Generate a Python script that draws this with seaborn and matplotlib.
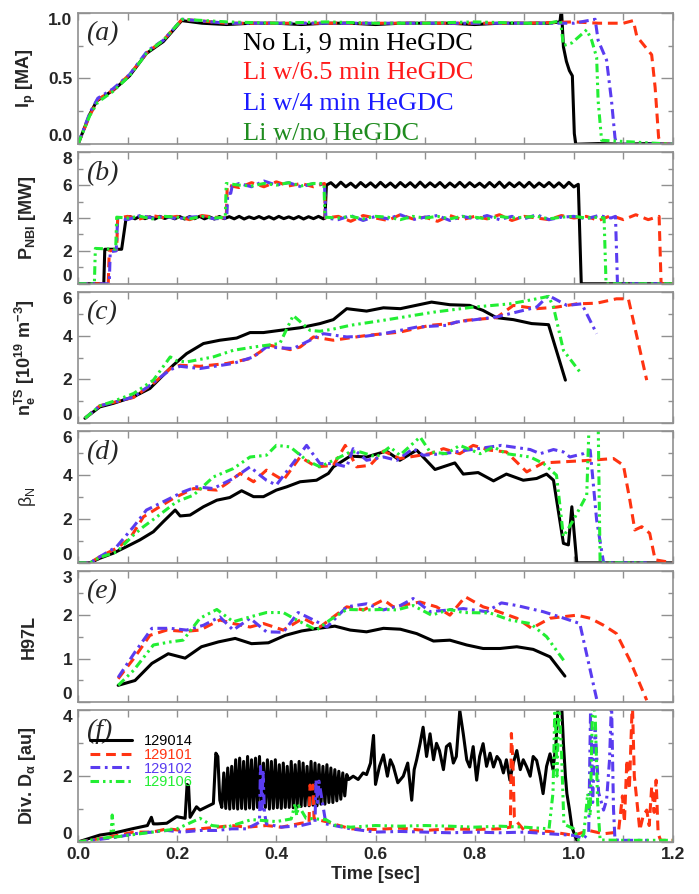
import matplotlib
matplotlib.use('Agg')
import matplotlib.pyplot as plt
import seaborn as sns

# ---------------- data ----------------
# (a) plasma current [MA]
ip_black_t = [0.0, 0.024, 0.038, 0.071, 0.104, 0.138, 0.172, 0.209, 0.25, 0.30,
              0.35, 0.40, 0.45, 0.50, 0.55, 0.60, 0.65, 0.70, 0.75, 0.80,
              0.85, 0.90, 0.95, 0.972, 0.975, 0.979, 0.985, 0.991, 0.997, 1.001,
              1.004, 1.05, 1.10, 1.15, 1.20]
ip_black = [0.0, 0.23, 0.33, 0.41, 0.52, 0.69, 0.78, 0.94, 0.92, 0.91,
            0.92, 0.92, 0.91, 0.92, 0.92, 0.91, 0.92, 0.92, 0.92, 0.91,
            0.92, 0.92, 0.92, 0.93, 1.03, 0.74, 0.63, 0.56, 0.52, 0.08,
            0.0, 0.005, 0.0, 0.005, 0.0]
ip_red_t = [0.0, 0.024, 0.04, 0.07, 0.104, 0.14, 0.172, 0.21, 0.30, 0.40,
            0.50, 0.60, 0.70, 0.80, 0.90, 1.00, 1.05, 1.10, 1.12, 1.127,
            1.157, 1.164, 1.171, 1.177, 1.20]
ip_red = [0.0, 0.22, 0.34, 0.41, 0.53, 0.70, 0.79, 0.95, 0.92, 0.92,
          0.92, 0.92, 0.92, 0.92, 0.92, 0.93, 0.92, 0.92, 0.94, 0.82,
          0.68, 0.43, 0.05, 0.0, 0.0]
ip_blue_t = [0.0, 0.024, 0.04, 0.07, 0.104, 0.14, 0.172, 0.21, 0.30, 0.40,
             0.50, 0.60, 0.70, 0.80, 0.90, 1.00, 1.043, 1.049, 1.066, 1.076,
             1.083, 1.086, 1.20]
ip_blue = [0.0, 0.24, 0.35, 0.42, 0.53, 0.71, 0.79, 0.95, 0.92, 0.92,
           0.92, 0.92, 0.92, 0.92, 0.92, 0.92, 0.95, 0.79, 0.64, 0.33,
           0.05, 0.0, 0.0]
ip_green_t = [0.0, 0.024, 0.04, 0.07, 0.104, 0.14, 0.172, 0.21, 0.30, 0.40,
              0.50, 0.60, 0.70, 0.80, 0.90, 0.95, 0.973, 0.979, 0.996, 1.026,
              1.036, 1.046, 1.049, 1.056, 1.20]
ip_green = [0.0, 0.22, 0.32, 0.40, 0.52, 0.70, 0.79, 0.95, 0.93, 0.92,
            0.93, 0.92, 0.92, 0.93, 0.92, 0.92, 0.94, 0.75, 0.77, 0.87,
            0.79, 0.66, 0.33, 0.03, 0.0]

# (b) NBI power [MW]
pb_black_t = [0.0, 0.052, 0.054, 0.088, 0.097,
              0.105, 0.115, 0.125, 0.135, 0.145, 0.155, 0.165, 0.175, 0.185, 0.195,
              0.205, 0.215, 0.225, 0.235, 0.245, 0.255, 0.265, 0.275, 0.285, 0.295,
              0.305, 0.315, 0.325, 0.335, 0.345, 0.355, 0.365, 0.375, 0.385, 0.395,
              0.405, 0.415, 0.425, 0.435, 0.445, 0.455, 0.465, 0.475, 0.485, 0.495,
              0.498, 0.501,
              0.51, 0.52, 0.53, 0.54, 0.55, 0.56, 0.57, 0.58, 0.59, 0.60,
              0.61, 0.62, 0.63, 0.64, 0.65, 0.66, 0.67, 0.68, 0.69, 0.70,
              0.71, 0.72, 0.73, 0.74, 0.75, 0.76, 0.77, 0.78, 0.79, 0.80,
              0.81, 0.82, 0.83, 0.84, 0.85, 0.86, 0.87, 0.88, 0.89, 0.90,
              0.91, 0.92, 0.93, 0.94, 0.95, 0.96, 0.97, 0.98, 0.99, 1.00,
              1.009, 1.015, 1.2]
pb_black = [0.0, 0.0, 2.1, 2.1, 4.0,
            4.08, 3.95, 4.1, 3.96, 4.07, 3.94, 4.1, 3.97, 4.08, 3.95,
            4.09, 3.94, 4.08, 3.96, 4.1, 3.95, 4.07, 3.94, 4.09, 3.96,
            4.08, 3.95, 4.1, 3.94, 4.07, 3.96, 4.09, 3.95, 4.08, 3.94,
            4.1, 3.96, 4.07, 3.95, 4.09, 3.94, 4.08, 3.96, 4.1, 3.95,
            4.0, 6.0,
            6.15, 5.88, 6.18, 5.9, 6.12, 5.86, 6.16, 5.9, 6.14, 5.87,
            6.17, 5.89, 6.13, 5.86, 6.16, 5.9, 6.15, 5.87, 6.18, 5.88,
            6.14, 5.9, 6.16, 5.86, 6.13, 5.89, 6.17, 5.88, 6.15, 5.9,
            6.12, 5.87, 6.16, 5.89, 6.18, 5.86, 6.14, 5.9, 6.15, 5.88,
            6.17, 5.87, 6.13, 5.9, 6.16, 5.88, 6.14, 5.86, 6.17, 5.89,
            6.05, 0.0, 0.0]
pb_red_t = [0.0, 0.061, 0.063, 0.078, 0.080, 0.100, 0.125, 0.150, 0.175, 0.200,
            0.225, 0.250, 0.275, 0.299, 0.301, 0.325, 0.350, 0.375, 0.400, 0.425,
            0.450, 0.475, 0.497, 0.499, 0.525, 0.550, 0.575, 0.600, 0.625, 0.650,
            0.675, 0.700, 0.725, 0.750, 0.775, 0.800, 0.825, 0.850, 0.875, 0.900,
            0.925, 0.950, 0.975, 1.000, 1.025, 1.050, 1.075, 1.100, 1.125, 1.150,
            1.172, 1.176, 1.200]
pb_red = [0.0, 0.0, 2.0, 2.05, 4.0, 4.1, 3.95, 4.15, 4.0, 4.1,
          3.9, 4.15, 4.05, 4.0, 6.0, 5.85, 6.15, 5.9, 6.2, 5.95,
          6.1, 5.9, 6.1, 4.0, 4.1, 3.8, 4.15, 4.0, 3.85, 4.2,
          3.95, 4.05, 3.8, 4.15, 3.9, 4.1, 3.95, 4.2, 3.85, 4.1,
          4.0, 3.9, 4.15, 4.0, 4.1, 3.85, 4.15, 3.9, 4.2, 3.9,
          4.1, 0.0, 0.0]
pb_blue_t = [0.0, 0.063, 0.065, 0.077, 0.080, 0.100, 0.125, 0.150, 0.175, 0.200,
             0.225, 0.250, 0.275, 0.300, 0.302, 0.308, 0.311, 0.325, 0.350, 0.375,
             0.400, 0.425, 0.450, 0.475, 0.497, 0.500, 0.525, 0.550, 0.575, 0.600,
             0.625, 0.650, 0.675, 0.700, 0.725, 0.750, 0.775, 0.800, 0.825, 0.850,
             0.875, 0.900, 0.925, 0.950, 0.975, 1.000, 1.025, 1.050, 1.075, 1.084,
             1.088, 1.200]
pb_blue = [0.0, 0.0, 1.95, 2.0, 4.0, 3.9, 4.15, 4.0, 4.1, 3.95,
           4.05, 4.1, 3.95, 4.0, 5.5, 5.5, 5.95, 6.1, 5.9, 6.25,
           6.0, 6.15, 5.9, 6.1, 6.05, 4.0, 3.9, 4.15, 3.85, 4.1,
           3.95, 4.2, 3.9, 4.05, 4.15, 3.85, 4.1, 3.95, 4.15, 3.9,
           4.1, 3.95, 4.2, 3.9, 4.05, 4.1, 3.95, 4.15, 4.0, 4.1,
           0.0, 0.0]
pb_green_t = [0.0, 0.033, 0.035, 0.076, 0.078, 0.100, 0.125, 0.150, 0.175, 0.200,
              0.225, 0.250, 0.275, 0.297, 0.299, 0.325, 0.350, 0.375, 0.400, 0.425,
              0.450, 0.475, 0.496, 0.498, 0.525, 0.550, 0.575, 0.600, 0.625, 0.650,
              0.675, 0.700, 0.725, 0.750, 0.775, 0.800, 0.825, 0.850, 0.875, 0.900,
              0.925, 0.950, 0.975, 1.000, 1.025, 1.050, 1.061, 1.065, 1.200]
pb_green = [0.0, 0.0, 2.15, 2.1, 4.05, 4.0, 4.1, 3.95, 4.1, 4.05,
            3.95, 4.1, 4.0, 4.05, 6.1, 6.0, 5.95, 6.1, 6.0, 6.15,
            5.95, 6.1, 6.1, 4.05, 4.0, 4.1, 3.95, 4.1, 4.05, 3.9,
            4.1, 4.0, 4.1, 3.95, 4.1, 4.05, 3.95, 4.1, 4.0, 4.05,
            4.1, 3.95, 4.05, 4.1, 4.0, 4.05, 4.0, 0.0, 0.0]

# (c) Thomson density [1e19 m^-3]
ne_black_t = [0.014, 0.044, 0.071, 0.112, 0.145, 0.172, 0.192, 0.219, 0.253, 0.286,
              0.32, 0.347, 0.374, 0.407, 0.448, 0.488, 0.515, 0.542, 0.582, 0.616,
              0.65, 0.713, 0.75, 0.79, 0.817, 0.844, 0.878, 0.915, 0.949, 0.983]
ne_black = [0.23, 0.75, 0.91, 1.21, 1.59, 2.2, 2.65, 3.18, 3.64, 3.79,
            3.89, 4.14, 4.14, 4.24, 4.36, 4.55, 4.73, 5.23, 5.12, 5.27,
            5.23, 5.53, 5.41, 5.38, 5.15, 4.82, 4.73, 4.55, 4.5, 1.97]
ne_red_t = [0.014, 0.044, 0.071, 0.112, 0.152, 0.186, 0.206, 0.246, 0.30, 0.347,
            0.387, 0.428, 0.448, 0.475, 0.515, 0.549, 0.582, 0.649, 0.71, 0.75,
            0.784, 0.844, 0.878, 0.925, 0.965, 1.006, 1.046, 1.086, 1.11, 1.147]
ne_red = [0.23, 0.8, 0.95, 1.18, 1.82, 2.5, 2.65, 2.6, 2.73, 2.95,
          3.56, 3.36, 3.48, 3.94, 3.79, 3.9, 4.01, 4.16, 4.47, 4.55,
          4.7, 4.82, 5.38, 5.23, 5.3, 5.45, 5.48, 5.68, 5.68, 1.97]
ne_blue_t = [0.014, 0.044, 0.071, 0.112, 0.152, 0.186, 0.206, 0.246, 0.313, 0.354,
             0.38, 0.434, 0.468, 0.495, 0.542, 0.582, 0.616, 0.683, 0.743, 0.763,
             0.844, 0.898, 0.925, 0.949, 0.986, 1.016, 1.046]
ne_blue = [0.23, 0.8, 0.95, 1.2, 1.85, 2.45, 2.6, 2.5, 2.73, 3.03,
           3.48, 3.41, 3.79, 4.09, 3.94, 3.98, 4.09, 4.39, 4.47, 4.62,
           4.85, 5.15, 5.3, 5.83, 5.38, 5.45, 4.09]
ne_green_t = [0.014, 0.044, 0.071, 0.112, 0.152, 0.186, 0.199, 0.219, 0.273, 0.313,
              0.354, 0.407, 0.434, 0.468, 0.488, 0.515, 0.549, 0.616, 0.717, 0.797,
              0.871, 0.925, 0.949, 0.959, 0.979, 1.012]
ne_green = [0.23, 0.8, 1.0, 1.36, 1.97, 3.03, 2.85, 2.8, 3.03, 3.33,
            3.48, 3.64, 4.92, 4.24, 4.2, 4.3, 4.47, 4.7, 5.07, 5.3,
            5.45, 5.68, 5.79, 5.3, 3.33, 2.35]

# (d) normalised beta
bn_black_t = [0, 0.024, 0.044, 0.071, 0.098, 0.125, 0.152, 0.172, 0.196, 0.206,
              0.226, 0.253, 0.28, 0.306, 0.33, 0.354, 0.374, 0.4, 0.421, 0.448,
              0.481, 0.505, 0.515, 0.549, 0.582, 0.622, 0.649, 0.683, 0.72, 0.76,
              0.777, 0.807, 0.838, 0.864, 0.898, 0.925, 0.945, 0.959, 0.979, 0.989,
              0.996, 1.006, 1.2]
bn_black = [0, 0, 0.21, 0.44, 0.74, 1.05, 1.42, 1.88, 2.41, 2.14,
            2.18, 2.56, 2.86, 2.98, 3.29, 3.02, 3.02, 3.32, 3.47, 3.7,
            3.77, 4.08, 4.38, 4.87, 4.83, 5.1, 4.68, 5.14, 4.26, 4.56,
            4.05, 4.12, 3.74, 4.05, 3.77, 3.85, 4.05, 3.77, 0.89, 0.82,
            2.56, 0.0, 0.0]
bn_red_t = [0, 0.024, 0.044, 0.078, 0.105, 0.132, 0.159, 0.192, 0.233, 0.28,
            0.30, 0.327, 0.354, 0.38, 0.414, 0.448, 0.481, 0.515, 0.539, 0.562,
            0.589, 0.616, 0.649, 0.71, 0.737, 0.77, 0.797, 0.831, 0.864, 0.905,
            0.938, 0.979, 1.033, 1.08, 1.1, 1.113, 1.123, 1.137, 1.153, 1.164,
            1.2]
bn_red = [0, 0, 0.28, 0.67, 1.12, 2.1, 2.48, 2.94, 3.39, 3.32,
          3.62, 4.08, 3.7, 4.23, 3.77, 4.83, 4.38, 4.45, 5.36, 4.38,
          4.45, 5.1, 4.76, 4.98, 5.21, 4.98, 5.36, 5.14, 5.06, 4.15,
          4.56, 4.61, 4.68, 4.76, 4.45, 2.86, 1.5, 1.65, 1.35, 0.14,
          0.0]
bn_blue_t = [0, 0.024, 0.044, 0.078, 0.112, 0.138, 0.165, 0.212, 0.239, 0.273,
             0.313, 0.347, 0.367, 0.38, 0.4, 0.428, 0.461, 0.488, 0.515, 0.542,
             0.555, 0.582, 0.616, 0.643, 0.676, 0.696, 0.737, 0.784, 0.854, 0.912,
             0.932, 0.959, 0.979, 0.992, 1.019, 1.033, 1.046, 1.06, 1.147]
bn_blue = [0, 0, 0.28, 0.74, 1.65, 2.41, 2.71, 3.24, 3.47, 3.39,
           3.85, 4.38, 4.0, 3.77, 3.55, 4.38, 5.36, 4.53, 4.53, 4.38,
           5.21, 4.68, 4.83, 4.68, 5.21, 4.91, 4.98, 5.14, 5.36, 5.17,
           4.98, 5.17, 5.06, 4.83, 4.98, 5.14, 1.95, 0.0, 0.0]
bn_green_t = [0, 0.024, 0.044, 0.078, 0.112, 0.132, 0.159, 0.199, 0.233, 0.273,
              0.313, 0.347, 0.38, 0.4, 0.428, 0.461, 0.488, 0.515, 0.549, 0.569,
              0.602, 0.629, 0.649, 0.69, 0.71, 0.743, 0.77, 0.811, 0.838, 0.864,
              0.912, 0.939, 0.965, 0.979, 0.999, 1.026, 1.031, 1.049, 1.053, 1.14]
bn_green = [0, 0, 0.25, 0.5, 1.27, 1.65, 2.1, 2.79, 3.09, 3.92,
            4.3, 4.83, 4.91, 5.36, 5.29, 4.68, 4.38, 4.68, 5.06, 5.06,
            4.83, 5.29, 4.91, 5.74, 5.06, 4.98, 5.36, 4.98, 5.29, 4.98,
            4.83, 4.53, 4.0, 1.2, 1.95, 3.09, 6.5, 6.5, 0.0, 0.0]

# (e) H97L
h_black_t = [0.081, 0.115, 0.149, 0.182, 0.216, 0.249, 0.283, 0.317, 0.35, 0.384,
             0.418, 0.451, 0.485, 0.518, 0.549, 0.582, 0.616, 0.65, 0.683, 0.717,
             0.75, 0.784, 0.817, 0.851, 0.885, 0.918, 0.952, 0.982]
h_black = [0.39, 0.5, 0.89, 1.11, 1.01, 1.27, 1.38, 1.46, 1.34, 1.36,
           1.53, 1.63, 1.69, 1.74, 1.65, 1.61, 1.69, 1.67, 1.57, 1.4,
           1.42, 1.31, 1.23, 1.23, 1.27, 1.21, 1.04, 0.6]
h_red_t = [0.081, 0.115, 0.145, 0.179, 0.216, 0.246, 0.286, 0.313, 0.347, 0.374,
           0.414, 0.454, 0.488, 0.515, 0.542, 0.576, 0.616, 0.636, 0.69, 0.723,
           0.75, 0.781, 0.817, 0.838, 0.885, 0.915, 0.952, 1.006, 1.033, 1.06,
           1.086, 1.113, 1.147]
h_red = [0.54, 1.04, 1.53, 1.65, 1.62, 1.65, 1.88, 1.8, 1.72, 1.8,
         1.65, 1.92, 1.72, 1.95, 2.18, 2.11, 2.34, 2.18, 2.29, 2.18,
         1.99, 2.41, 2.18, 2.11, 1.92, 1.69, 1.92, 1.99, 1.92, 1.76,
         1.57, 0.96, 0.05]
h_blue_t = [0.081, 0.115, 0.149, 0.186, 0.219, 0.253, 0.286, 0.313, 0.347, 0.38,
            0.414, 0.444, 0.475, 0.502, 0.542, 0.582, 0.616, 0.65, 0.676, 0.71,
            0.75, 0.777, 0.824, 0.854, 0.885, 0.938, 0.972, 1.012, 1.046]
h_blue = [0.57, 1.15, 1.69, 1.69, 1.65, 1.76, 1.95, 1.65, 1.92, 1.61,
          1.6, 2.05, 1.88, 1.72, 2.18, 2.25, 2.11, 2.21, 2.37, 2.07,
          2.11, 2.14, 2.07, 2.27, 2.21, 2.07, 1.95, 1.8, 0.08]
h_green_t = [0.081, 0.112, 0.152, 0.186, 0.212, 0.246, 0.28, 0.313, 0.347, 0.38,
             0.414, 0.441, 0.481, 0.508, 0.542, 0.582, 0.616, 0.643, 0.676, 0.713,
             0.75, 0.777, 0.831, 0.871, 0.912, 0.945, 0.982]
h_green = [0.39, 0.73, 1.31, 1.38, 1.42, 1.92, 2.12, 1.84, 1.95, 2.05,
           2.05, 1.88, 1.65, 1.88, 2.12, 2.11, 2.12, 2.11, 2.21, 1.99,
           2.12, 2.05, 2.04, 1.88, 1.8, 1.5, 0.92]

# (f) divertor D-alpha [au]
da_black_t = [0.0, 0.044, 0.075, 0.112, 0.140, 0.148, 0.152, 0.160, 0.179, 0.199,
              0.216, 0.220, 0.223, 0.226, 0.239, 0.246, 0.273, 0.278, 0.282, 0.286,
              0.290, 0.294, 0.298, 0.302, 0.306, 0.310, 0.314, 0.318, 0.322, 0.326,
              0.330, 0.334, 0.338, 0.342, 0.346, 0.350, 0.354, 0.358, 0.362, 0.366,
              0.370, 0.374, 0.378, 0.382, 0.386, 0.390, 0.394, 0.398, 0.402, 0.406,
              0.410, 0.414, 0.418, 0.422, 0.426, 0.430, 0.434, 0.438, 0.442, 0.446,
              0.450, 0.454, 0.458, 0.462, 0.466, 0.470, 0.474, 0.478, 0.482, 0.486,
              0.490, 0.494, 0.498, 0.502, 0.506, 0.510, 0.514, 0.518, 0.522, 0.526,
              0.530, 0.534, 0.538, 0.542, 0.546,
              0.555, 0.565, 0.575, 0.582, 0.590, 0.596, 0.600, 0.608, 0.616, 0.624,
              0.630, 0.636, 0.645, 0.656, 0.665, 0.673, 0.678, 0.683, 0.690, 0.696,
              0.703, 0.710, 0.717, 0.723, 0.729, 0.737, 0.743, 0.750, 0.757, 0.763,
              0.770, 0.777, 0.784, 0.790, 0.797, 0.804, 0.810, 0.817, 0.824, 0.831,
              0.838, 0.845, 0.851, 0.858, 0.864, 0.871, 0.878, 0.885, 0.892, 0.898,
              0.905, 0.912, 0.918, 0.925, 0.932, 0.938, 0.945, 0.952, 0.958, 0.964,
              0.969, 0.975, 0.979, 0.983, 0.986, 0.991, 0.996, 1.002, 1.006, 1.010,
              1.015]
da_black = [0.0, 0.21, 0.28, 0.41, 0.5, 0.75, 0.55, 0.55, 0.57, 0.77,
            0.72, 1.75, 1.7, 0.75, 1.07, 0.97, 1.17, 2.7, 2.6, 1.27,
            1.05, 2.1, 1.02, 2.25, 1.0, 2.3, 1.02, 2.5, 1.0, 2.55,
            1.02, 2.45, 1.0, 2.6, 1.03, 2.5, 1.0, 2.55, 1.05, 2.6,
            1.02, 2.4, 1.05, 2.5, 1.0, 2.45, 1.02, 2.5, 1.04, 2.35,
            1.02, 2.4, 1.05, 2.3, 1.05, 2.45, 1.04, 2.35, 1.06, 2.45,
            1.08, 2.4, 1.1, 2.3, 1.1, 2.45, 1.12, 2.4, 1.1, 2.35,
            1.15, 2.3, 1.15, 2.35, 1.2, 2.25, 1.2, 2.2, 1.25, 2.15,
            1.3, 2.1, 1.4, 2.05, 1.9,
            2.0, 1.9, 2.1, 2.05, 2.4, 3.24, 1.75, 2.3, 2.65, 2.0,
            2.5, 2.3, 1.8, 2.0, 2.4, 1.27, 2.2, 2.5, 3.0, 3.49,
            2.6, 3.29, 2.5, 3.0, 2.78, 2.2, 2.9, 2.99, 2.4, 2.6,
            4.0, 3.29, 2.5, 2.28, 2.9, 1.88, 2.6, 2.99, 2.3, 2.7,
            2.28, 2.6, 2.48, 2.1, 2.5, 1.88, 2.4, 2.78, 2.2, 2.5,
            2.28, 2.0, 2.6, 2.48, 2.0, 1.47, 2.3, 2.68, 2.2, 3.0,
            4.3, 4.3, 3.0, 2.0, 1.47, 1.0, 0.46, 0.2, 0.06, -0.1,
            -0.1]
da_red_t = [0.0, 0.044, 0.08, 0.112, 0.15, 0.18, 0.21, 0.246, 0.28, 0.31,
            0.34, 0.38, 0.41, 0.45, 0.466, 0.468, 0.471, 0.474, 0.476, 0.50,
            0.515, 0.55, 0.60, 0.65, 0.70, 0.75, 0.80, 0.85, 0.872, 0.874,
            0.877, 0.88, 0.886, 0.90, 0.95, 1.00, 1.03, 1.06, 1.09, 1.098,
            1.102, 1.107, 1.112, 1.118, 1.122, 1.127, 1.133, 1.14, 1.147, 1.152,
            1.157, 1.162, 1.166, 1.17, 1.175, 1.20]
da_red = [0.0, 0.1, 0.2, 0.3, 0.3, 0.4, 0.35, 0.4, 0.45, 0.5,
          0.45, 0.5, 0.45, 0.57, 0.6, 1.73, 1.5, 1.73, 0.7, 0.62,
          0.55, 0.4, 0.38, 0.42, 0.35, 0.4, 0.38, 0.4, 0.45, 3.3,
          2.5, 0.77, 0.6, 0.35, 0.32, 0.2, 0.35, 0.25, 0.3, 1.4,
          0.6, 2.5, 1.6, 4.3, 2.0, 1.27, 0.36, 0.8, 0.97, 0.5,
          1.68, 0.9, 1.88, 0.26, 0.05, 0.05]
da_blue_t = [0.0, 0.044, 0.08, 0.112, 0.15, 0.18, 0.21, 0.246, 0.28, 0.31,
             0.34, 0.366, 0.368, 0.371, 0.373, 0.376, 0.38, 0.41, 0.45, 0.478,
             0.48, 0.483, 0.486, 0.50, 0.55, 0.60, 0.65, 0.70, 0.75, 0.80,
             0.85, 0.90, 0.95, 1.00, 1.02, 1.03, 1.034, 1.038, 1.043, 1.05,
             1.06, 1.066, 1.072, 1.076, 1.08, 1.083, 1.10, 1.15]
da_blue = [0.0, 0.08, 0.15, 0.25, 0.3, 0.35, 0.3, 0.35, 0.35, 0.4,
           0.4, 0.6, 2.3, 1.0, 2.2, 0.9, 0.55, 0.45, 0.5, 0.6,
           1.9, 1.2, 1.85, 0.55, 0.4, 0.3, 0.32, 0.3, 0.28, 0.3,
           0.28, 0.3, 0.25, 0.2, 0.1, 0.3, 4.3, 1.2, 3.5, 1.5,
           0.97, 1.27, 2.5, 4.3, 1.0, 0.06, 0.05, 0.05]
da_green_t = [0.0, 0.044, 0.066, 0.069, 0.072, 0.075, 0.10, 0.15, 0.20, 0.246,
              0.27, 0.30, 0.35, 0.40, 0.43, 0.438, 0.441, 0.445, 0.46, 0.50,
              0.52, 0.55, 0.60, 0.65, 0.70, 0.75, 0.80, 0.85, 0.90, 0.95,
              0.958, 0.962, 0.966, 0.97, 0.975, 0.98, 1.00, 1.01, 1.02, 1.028,
              1.033, 1.038, 1.043, 1.048, 1.053, 1.10, 1.20]
da_green = [0.0, 0.1, 0.15, 0.82, 0.3, 0.15, 0.2, 0.3, 0.4, 0.72,
            0.5, 0.45, 0.68, 0.62, 0.7, 1.17, 0.8, 1.1, 0.72, 0.68,
            0.5, 0.45, 0.5, 0.48, 0.5, 0.48, 0.45, 0.48, 0.45, 0.4,
            1.5, 4.3, 2.0, 4.3, 2.78, 0.54, 0.4, 0.05, 0.24, 1.47,
            0.8, 4.3, 3.9, 1.2, 0.06, 0.05, 0.05]

shot_labels = ['129014', '129101', '129102', '129106']
cond_labels = ['No Li, 9 min HeGDC', 'Li w/6.5 min HeGDC',
               'Li w/4 min HeGDC', 'Li w/no HeGDC']

# ---------------- style ----------------
sns.set_style('ticks')
plt.rcParams['font.family'] = ['Liberation Sans', 'DejaVu Sans']
plt.rcParams['font.weight'] = 'bold'
plt.rcParams['mathtext.default'] = 'regular'

keys = ['black', 'red', 'blue', 'green']
line_col = {'black': '#000000', 'red': '#ff3311', 'blue': '#5a3cf0', 'green': '#22ee33'}
line_sty = {'black': '-', 'red': (0, (3.2, 1.9)),
            'blue': (0, (3.2, 1.5, 0.9, 1.5)),
            'green': (0, (2.8, 1.3, 0.8, 1.3, 0.8, 1.3))}
frame_col = '#909090'

panels = [
    (dict(zip(keys, [(ip_black_t, ip_black), (ip_red_t, ip_red), (ip_blue_t, ip_blue), (ip_green_t, ip_green)])),
     (0, 1.0), [0.0, 0.5, 1.0], [0.25, 0.75], '%.1f', 'I$_p$ [MA]', '(a)', 'bold'),
    (dict(zip(keys, [(pb_black_t, pb_black), (pb_red_t, pb_red), (pb_blue_t, pb_blue), (pb_green_t, pb_green)])),
     (0, 8), [0, 2, 4, 6, 8], [1, 3, 5, 7], '%d', 'P$_{NBI}$ [MW]', '(b)', 'bold'),
    (dict(zip(keys, [(ne_black_t, ne_black), (ne_red_t, ne_red), (ne_blue_t, ne_blue), (ne_green_t, ne_green)])),
     (0, 6), [0, 2, 4, 6], [1, 3, 5], '%d', 'n$_e^{TS}$ [10$^{19}$ m$^{-3}$]', '(c)', 'bold'),
    (dict(zip(keys, [(bn_black_t, bn_black), (bn_red_t, bn_red), (bn_blue_t, bn_blue), (bn_green_t, bn_green)])),
     (0, 6), [0, 2, 4, 6], [1, 3, 5], '%d', 'β$_N$', '(d)', 'normal'),
    (dict(zip(keys, [(h_black_t, h_black), (h_red_t, h_red), (h_blue_t, h_blue), (h_green_t, h_green)])),
     (0, 3), [0, 1, 2, 3], [0.5, 1.5, 2.5], '%d', 'H97L', '(e)', 'bold'),
    (dict(zip(keys, [(da_black_t, da_black), (da_red_t, da_red), (da_blue_t, da_blue), (da_green_t, da_green)])),
     (0, 4), [0, 2, 4], [1, 3], '%d', 'Div. D$_α$ [au]', '(f)', 'bold'),
]

fig, axes = plt.subplots(6, 1, sharex=True, figsize=(6.99, 8.94), dpi=100)
fig.subplots_adjust(left=0.1116, right=0.9628, top=0.9858, bottom=0.0582, hspace=0.061)

for ax, (series, ylim, major, minor, fmt, ylab, letter, lw_weight) in zip(axes, panels):
    for k in keys:
        t, v = series[k]
        sns.lineplot(x=t, y=v, ax=ax, color=line_col[k], linestyle=line_sty[k],
                     linewidth=2.2, estimator=None, sort=False, legend=False)
    ax.set_xlim(0, 1.2)
    ax.set_ylim(*ylim)
    ax.set_xticks([0.0, 0.2, 0.4, 0.6, 0.8, 1.0, 1.2])
    ax.set_xticks([0.1, 0.3, 0.5, 0.7, 0.9, 1.1], minor=True)
    ax.set_yticks(major)
    ax.set_yticks(minor, minor=True)
    ax.set_yticklabels([fmt % m for m in major], fontsize=12.5, fontweight='bold')
    labs = ax.get_yticklabels()
    labs[0].set_verticalalignment('bottom')
    labs[-1].set_verticalalignment('top')
    ax.tick_params(which='both', direction='in', top=True, right=True,
                   color=frame_col, width=1.0)
    ax.tick_params(axis='x', which='both', length=5)
    ax.tick_params(axis='y', which='major', length=8.5, pad=4)
    ax.tick_params(axis='y', which='minor', length=3.5)
    for sp in ax.spines.values():
        sp.set_color(frame_col)
        sp.set_linewidth(1.2)
    ax.set_ylabel(ylab, fontsize=13, fontweight=lw_weight)
    ax.yaxis.set_label_coords(-0.067, 0.5)
    ax.text(0.014, 0.84, letter, transform=ax.transAxes, fontsize=20,
            family='Liberation Serif', style='italic', fontweight='normal',
            va='center', ha='left')

# condition labels in panel (a)
cond_cols = ['#000000', '#ff1a1a', '#1a1aff', '#1f8c1f']
for i, (lab, c) in enumerate(zip(cond_labels, cond_cols)):
    axes[0].text(0.277, 0.768 - i * 0.23, lab, transform=axes[0].transAxes,
                 color=c, fontsize=19, family='Liberation Serif',
                 fontweight='normal', va='center', ha='left')

# shot legend in panel (f)
leg = axes[5].legend(handles=axes[5].get_lines()[:4], labels=shot_labels,
                     loc='upper left', bbox_to_anchor=(0.02, 0.82),
                     frameon=False, handlelength=2.9,
                     handletextpad=0.8, labelspacing=-0.02, borderpad=0,
                     borderaxespad=0, prop={'weight': 'normal', 'size': 10.5})
for txt, k in zip(leg.get_texts(), keys):
    txt.set_color(line_col[k])

axes[-1].set_xticklabels(['0.0', '0.2', '0.4', '0.6', '0.8', '1.0', '1.2'],
                         fontsize=12.5, fontweight='bold')
axes[-1].set_xlabel('Time [sec]', fontsize=13, fontweight='bold', labelpad=3)

fig.savefig('out.png', dpi=100)
